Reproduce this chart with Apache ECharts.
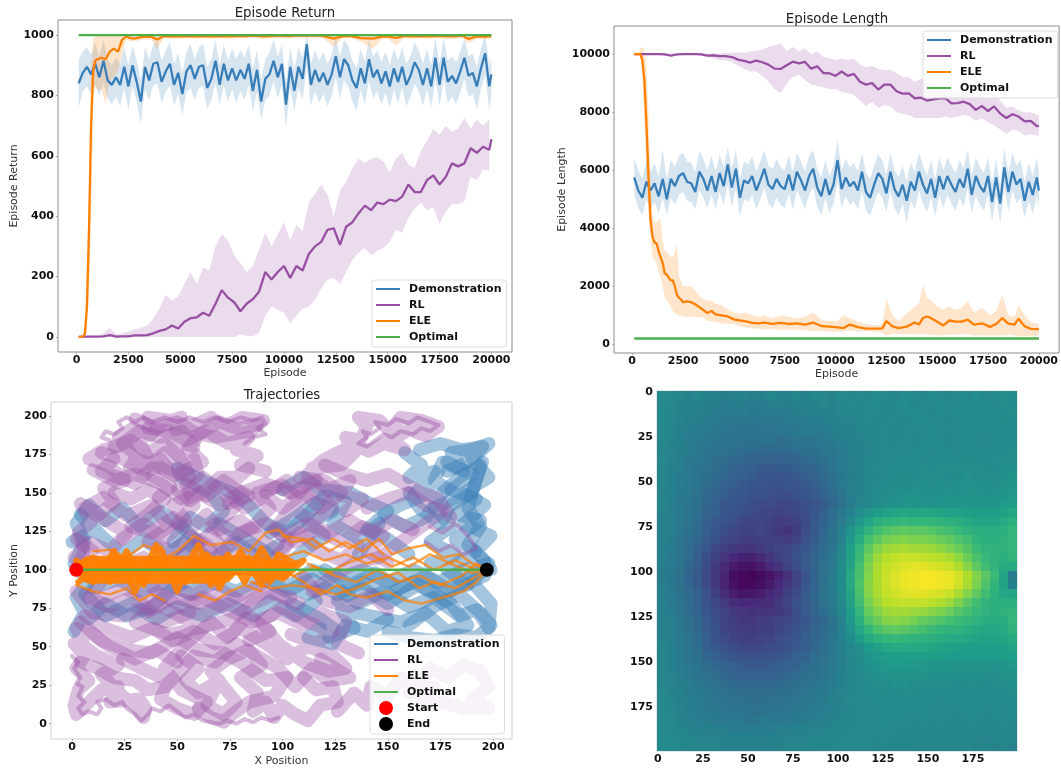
<!DOCTYPE html>
<html><head><meta charset="utf-8">
<style>html,body{margin:0;padding:0;background:#fff}#c{width:1061px;height:768px}canvas{filter:blur(0.4px)}</style>
<script src="https://cdn.jsdelivr.net/npm/echarts@6/dist/echarts.min.js"></script>
</head><body><div id="c"></div>
<script>
const episodes=[100,300,500,700,900,1100,1300,1500,1700,1900,2100,2300,2500,2700,2900,3100,3300,3500,3700,3900,4100,4300,4500,4700,4900,5100,5300,5500,5700,5900,6100,6300,6500,6700,6900,7100,7300,7500,7700,7900,8100,8300,8500,8700,8900,9100,9300,9500,9700,9900,10100,10300,10500,10700,10900,11100,11300,11500,11700,11900,12100,12300,12500,12700,12900,13100,13300,13500,13700,13900,14100,14300,14500,14700,14900,15100,15300,15500,15700,15900,16100,16300,16500,16700,16900,17100,17300,17500,17700,17900,18100,18300,18500,18700,18900,19100,19300,19500,19700,19900,20000];
const demoRetMean=[840,875,895,870,905,860,915,850,835,860,
835,895,830,900,845,780,895,850,905,910,
845,880,905,835,875,805,880,900,855,895,
900,825,855,915,835,905,850,890,850,885,
855,905,815,885,780,855,870,915,860,905,
770,895,815,895,855,970,835,885,845,875,
835,870,930,860,920,900,850,825,890,840,
920,860,885,840,880,830,890,845,895,835,
865,910,885,835,890,830,925,835,925,845,
865,840,880,925,865,875,830,890,940,830,870];
const demoRetLow=[760,815,830,805,835,800,840,790,770,795,
765,825,750,830,780,705,820,785,835,840,
775,810,835,765,805,735,810,825,785,825,
830,755,785,840,770,835,780,820,775,815,
785,835,745,815,720,785,800,845,790,835,
695,825,750,825,785,895,765,815,775,805,
765,800,860,790,850,830,780,750,820,770,
850,790,815,770,810,760,820,775,825,765,
795,840,815,765,820,760,855,765,855,775,
795,770,810,855,795,805,755,820,870,750,800];
const demoRetHigh=[920,945,960,935,975,930,985,920,900,925,
905,960,900,965,915,850,960,920,970,980,
915,950,975,905,940,875,945,970,920,960,
970,895,920,985,900,970,915,955,920,950,
925,970,885,950,850,920,940,985,930,970,
840,960,885,960,925,1000,905,950,915,945,
905,935,995,930,985,965,915,890,955,910,
985,930,950,910,945,900,955,915,960,905,
930,975,950,905,955,900,990,905,990,915,
930,910,945,990,930,940,895,955,1000,900,920];
const demoLenMean=[5750,5300,5050,5600,5300,5550,5100,5700,5000,5700,
5450,5800,5900,5600,5550,5250,5950,5700,5300,5800,
5250,5900,5450,6200,5400,6050,5050,5650,5550,5800,
5300,5650,6050,5500,5350,5700,5450,5350,5850,5300,
5950,5650,5300,5800,6050,5400,5100,5700,5150,5500,
6350,5350,5750,5450,5600,5300,5950,5250,5050,5500,
5900,5700,5200,5950,5350,5100,5500,4950,5600,5300,
5950,5500,5200,5700,5050,5800,5350,5800,5500,5250,
5700,5400,6050,5150,5800,5450,5250,5800,4900,5750,
4850,6100,5250,5950,5500,5700,4950,5600,5150,5750,5300];
const demoLenLow=[5150,4700,4450,5000,4650,4900,4500,5050,4450,5050,
4800,5150,5250,4950,4900,4650,5300,5050,4700,5150,
4650,5250,4800,5500,4750,5350,4400,5000,4900,5150,
4650,5000,5400,4850,4700,5050,4800,4700,5200,4650,
5300,5000,4650,5150,5400,4750,4450,5050,4500,4850,
5600,4700,5100,4800,4950,4650,5300,4600,4450,4850,
5250,5050,4550,5300,4700,4450,4850,4200,4950,4650,
5300,4850,4550,5050,4400,5150,4700,5150,4850,4600,
5050,4750,5400,4500,5150,4800,4600,5150,4250,5100,
4150,5400,4600,5300,4850,5050,4350,4950,4500,5100,4700];
const demoLenHigh=[6400,6000,5700,6350,5950,6250,5800,6700,5700,6350,
6100,6500,6600,6300,6250,5950,6650,6400,6000,6500,
5950,6550,6100,6800,6050,6700,5700,6300,6200,6500,
5950,6300,6700,6150,6050,6400,6100,6000,6500,5950,
6600,6300,5950,6500,6700,6050,5750,6350,5800,6150,
7050,6000,6400,6100,6250,5950,6600,5900,5700,6150,
6550,6350,5850,6600,6000,5750,6150,5600,6250,5950,
6600,6150,5850,6350,5700,6450,6000,6450,6150,5900,
6350,6050,6700,5800,6450,6100,5900,6450,5550,6400,
5500,6750,5900,6600,6150,6350,5600,6250,5800,6400,6000];
const rlEpisodes=[100,400,700,1000,1300,1600,1900,2200,2500,2800,3100,3400,3700,4000,4300,4600,4900,5200,5500,5800,6100,6400,6700,7000,7300,7600,7900,8200,8500,8800,9100,9400,9700,10000,10300,10600,10900,11200,11500,11800,12100,12400,12700,13000,13300,13600,13900,14200,14500,14800,15100,15400,15700,16000,16300,16600,16900,17200,17500,17800,18100,18400,18700,19000,19300,19600,19900,20000];
const rlRetMean=[0,1,1,1,2,6,1,2,2,5,
5,6,12,20,25,38,28,50,62,65,
80,70,110,155,130,115,85,110,125,150,
215,190,215,235,195,235,220,275,300,315,355,
360,305,365,380,410,435,420,445,440,455,
450,465,505,480,480,520,535,505,530,575,
565,575,625,610,630,620,655];
const rlRetLow=[0,0,0,0,0,0,0,0,0,0,
0,0,0,0,0,0,0,0,0,0,
0,0,0,0,0,0,8,3,2,12,
70,100,90,80,45,70,95,100,125,160,190,
195,175,215,255,280,295,270,285,295,315,
355,345,395,425,445,420,430,375,415,440,
440,450,530,520,555,550,590];
const rlRetHigh=[0,2,4,5,12,30,8,12,18,25,
30,38,60,95,140,120,135,175,215,175,
230,220,300,340,320,270,245,215,235,290,
345,300,340,380,320,370,350,445,475,505,470,
400,485,515,560,590,575,590,595,580,
545,590,610,570,560,615,650,690,670,700,
680,690,725,690,720,700,720];
const rlLenMean=[10000,10000,10000,10000,10000,9990,9950,9990,10000,10000,
10000,9990,9950,9960,9930,9930,9900,9810,9770,9710,
9780,9720,9640,9500,9490,9620,9740,9680,9730,9500,
9580,9350,9340,9250,9400,9250,9320,9050,8950,9000,8780,
8950,8950,8720,8640,8650,8480,8500,8400,8440,8480,
8480,8300,8310,8360,8280,8080,8210,8040,8200,7950,
7800,7930,7850,7680,7700,7520,7530];
const rlLenLow=[10000,9990,9980,9980,9970,9960,9930,9970,9980,9990,
9980,9960,9900,9860,9800,9780,9720,9600,9500,9400,
9400,9250,9050,8800,8650,9000,9200,9300,9100,8950,
8900,8850,8800,8800,8700,8650,8600,8400,8200,8350,8150,
8250,8200,8000,7950,7900,7800,7800,7800,7800,7800,
7850,7800,7850,7900,7850,7700,7800,7650,7550,7400,
7250,7400,7350,7200,7250,7200,7200];
const rlLenHigh=[10000,10010,10020,10020,10020,10020,10010,10010,10020,10010,
10020,10020,10000,10040,10020,10040,10040,10070,10050,10100,
10120,10150,10250,10300,10380,10100,10250,10100,10200,10000,
10100,9900,9870,9800,9850,9800,9850,9650,9550,9600,9500,
9450,9450,9350,9200,9200,9050,9150,9050,9000,8900,
8880,8750,8750,8800,8650,8500,8600,8450,8700,8400,
8150,8200,8050,8000,8000,7900,7900];
const eleRetEpisodes=[100,300,400,500,600,700,800,900,1000,1200,1400,1600,1800,2000,2200,2400,2600,2800,
3200,3600,3900,4200,4600,5000,5400,5800,6200,6600,7000,7400,7800,8200,8600,9000,9400,9800,10200,10600,11000,11400,11800,12400,12800,13200,13700,14300,14700,15000,15400,15800,16200,16600,17000,17400,17800,18200,18600,18900,19300,19700,20000];
const eleRetMean=[0,0,10,100,350,700,880,915,920,925,920,945,955,945,985,995,990,988,
995,994,985,997,996,996,997,996,997,996,997,996,997,997,998,996,997,998,997,998,998,998,998,988,996,997,990,988,995,996,991,997,996,997,996,997,997,996,998,987,996,995,997];
const eleRetLow=[0,0,0,20,150,400,780,830,820,820,770,850,860,880,940,985,980,980,
985,985,955,990,988,988,990,988,990,988,990,988,990,990,992,988,990,992,990,992,992,992,992,962,988,990,978,955,985,988,965,990,988,990,988,990,985,988,992,972,988,985,990];
const eleRetHigh=[0,0,20,250,500,900,985,995,1000,1000,1000,1000,1000,1000,1000,1000,1000,995,
1000,1000,1000,1000,1000,1000,1000,1000,1000,1000,1000,1000,1000,1000,1000,1000,1000,1000,1000,1000,1000,1000,1000,1000,1000,1000,1000,1000,1000,1000,1000,1000,1000,1000,1000,1000,1000,1000,1000,1000,1000,1000,1000];
const eleLenEpisodes=[100,300,400,500,600,700,800,900,1000,1100,1200,1300,1400,1500,1600,1700,1800,1900,2000,2100,2200,2300,2400,2500,2700,2900,3100,3300,3500,3700,3900,4100,4400,4700,5000,5300,5600,5900,6200,6500,6900,7300,7700,8100,8500,8900,9300,9700,10100,10400,10700,11100,11500,12000,12300,12500,12800,13100,13500,13900,14100,14300,14500,14700,15000,15300,15600,15900,16200,16500,16800,17200,17600,17900,18200,18500,18800,19000,19300,19600,20000];
const eleLenMean=[10000,10000,10000,9800,9100,7600,5800,4300,3700,3500,
3480,3200,3000,2800,2450,2400,2300,2200,2200,2000,
1700,1600,1550,1450,1480,1450,1380,1280,1180,1080,
1150,1030,1000,960,860,820,790,740,720,750,
700,740,700,720,680,750,630,610,580,560,
680,590,540,540,550,800,620,560,610,750,
680,900,960,900,780,650,820,780,780,850,
680,720,600,700,900,710,680,880,620,530,520];
const eleLenLow=[10000,10000,9950,9200,7800,6000,4500,3700,3000,2900,
2800,2500,2300,2000,1600,1500,1450,1300,1150,1050,
1050,1000,980,950,950,950,950,940,920,800,
800,760,720,700,700,620,570,550,540,520,
520,500,510,500,480,450,460,440,420,440,
470,450,440,430,400,300,360,360,350,350,
340,370,340,330,300,320,340,330,350,360,
300,310,300,300,300,330,300,280,280,280,300];
const eleLenHigh=[10000,10000,10250,10200,10200,9500,8000,5500,4400,4200,
4200,4300,4300,3600,3200,3200,3100,3000,3000,3200,
3500,2300,2200,2000,2000,2000,1850,1650,1550,1500,
1500,1400,1350,1200,1100,1050,1100,1000,950,1000,
900,1000,950,900,950,1100,850,800,800,1000,
900,780,700,650,700,1550,1000,800,1050,1300,
1400,2050,1600,1500,1300,1200,1300,1200,1250,1500,
1100,1250,1000,1150,1700,1000,950,1350,1000,750,700];
const optimalEpisodes=[100,20000];
const optimalReturn=[1000,1000];
const optimalLength=[200,200];
const demoPaths=[
[1,60,6,72,2,82,8,92,1,104,6,118,2,130,8,142,16,132,24,140,32,128,42,138,52,128,60,118,52,108,60,96,48,88,38,76,26,70,16,78,8,68],
[48,118,56,134,64,128,72,138,66,150,52,160,50,166,62,158,76,150,84,142,92,130,102,124,112,136,120,148,130,144,124,130,136,120,146,130,136,110],
[100,92,112,84,124,90,136,78,148,86,160,76,172,82,184,70,192,74,198,62,199,78,190,92,198,104,186,100,174,92,162,100,150,92,138,100,126,94,114,100,102,88,92,96],
[104,78,118,68,126,60,122,56,134,62,128,74,142,70,156,66,168,72,178,60,188,64,180,78,164,90,150,78,138,88,126,80],
[199,100,192,112,199,122,186,130,196,142,186,150,198,160,190,172,198,182,190,178,180,176,186,164,176,170,172,158,184,148,172,140,180,128,170,118,182,110,170,104],
[158,176,166,168,160,160,172,164,162,148,170,150,156,142,148,136,158,128,168,134,176,150,184,160,194,168,188,140,194,128,188,116,196,106],
[10,88,22,94,32,86,44,92,56,84,66,92,78,86,90,94,102,86,114,94,126,84,138,92,150,84,162,92,174,84,186,90,196,96],
[70,130,82,120,92,112,100,100,110,112,120,122,112,130,124,138,116,144,104,132,94,124],
[0,118,10,126,4,136,14,122,24,110,34,120,44,110,54,118,66,106,78,118,88,108,98,116],
[6,84,16,70,28,78,40,68,50,76,62,70,74,78,86,70,94,80,106,70,116,80],
[150,60,160,56,172,54,182,58,192,56,199,64,194,72,184,84,172,76,160,64],
[178,170,190,162,180,152,192,146,182,136,194,132,182,120,192,112,178,100,188,90],
[160,110,150,120,140,126,150,138,140,144,132,150,118,152,110,160,100,152],
[118,62,112,56,124,52,130,64,140,60,150,68],
[120,100,132,90,144,98,156,88,168,96,180,86,192,98],
[165,178,175,182,185,178,195,180,188,170,178,164],
[160,150,165,140,175,130,180,142,190,150,195,170]];
const rlPaths=[
[2,100,6,112,3,124,9,131,4,143,13,136,20,144,15,153,25,158,18,167,8,172,15,178,25,181,31,174,27,165,37,170,33,181,22,186,29,192,37,187,42,194,36,199,47,197,52,199,49,191,58,194,66,199,72,193,81,199,91,197,85,190,76,188,68,186,61,188,55,179,62,170,56,166,48,161,42,172,38,161,47,154,41,147],
[14,176,24,172,34,165,44,176,52,170,47,184,58,180,52,190,42,186,32,190,24,182,30,172,40,168,50,160,58,172,60,162,50,152,56,145,64,152,70,160,78,160,84,166,75,155,84,148,74,143],
[92,150,102,158,108,150,114,162,122,170,114,166,128,168,134,176,130,186,137,184,140,193,136,199,146,197,151,190,156,199,166,197,174,193,168,187,160,191,152,184,158,178,148,182,141,177,134,181,126,176,119,171,112,162,122,152,132,158,128,148,138,146,130,138],
[50,130,58,142,54,156,64,148,72,158,82,148,74,136,66,128,76,120,86,128,94,140,88,150,100,155,108,145,116,152,124,140,114,132,104,140,96,126,106,118,116,126,128,118,138,128,148,122,140,112,150,105],
[1,108,8,118,18,112,26,124,16,132,6,140,15,147,26,135,38,142,46,128,36,118,48,112,56,122,66,112,58,102,68,92,58,84,46,90,36,82,24,88,12,80,2,86,10,72,24,70,34,76,44,66,56,72],
[1,52,6,44,2,36,8,28,3,22,1,12,2,6,8,14,14,22,22,24,18,14,32,16,35,10,34,4,30,12,24,18,14,32,22,38,12,44,6,50,2,62,10,58,18,50,30,42,40,48,50,40],
[52,44,60,36,54,28,60,20,70,28,64,12,72,6,78,14,72,24,66,34,74,42,84,48,90,38,80,30,88,20,86,8,92,14,96,4,100,12,106,6,112,2,118,12,126,14,124,24,116,22,110,30],
[6,70,16,62,28,56,38,62,48,54,58,60,68,52,80,62,92,52,102,42,112,50,124,44,130,36,122,34,110,40,98,52,90,66,100,76,112,66,124,60,116,52,104,58],
[24,42,36,34,46,28,42,16,50,10,58,6,64,14,52,22,44,36,54,52,66,66,74,56,84,70,94,60,84,54],
[126,8,134,20,140,12,142,24,150,18,156,30,164,24,170,36,178,30,186,38,194,34,198,24,190,16,198,10,186,10,176,14,166,12,172,24,160,20],
[110,95,120,80,132,76,142,84,150,74],
[20,100,34,108,44,98,54,110,66,124,74,108,84,116,94,104,102,116,90,90,78,82,66,74,54,68,40,78,30,66,46,58,60,62,76,68,86,78,96,84,108,78],
[20,150,28,146,36,152,44,146,36,136,28,128,38,124,48,134,56,126,64,136,70,126,80,132,90,120,98,112,108,124,118,112,128,106,136,116],
[30,198,40,192,50,196,60,188,70,196,78,192,88,194],
[10,165,20,158,30,162,42,156,52,146,62,160,72,150,82,140,92,148,100,140,110,150,118,140,128,150,120,158,108,160],
[4,40,12,36,20,30,30,28,36,22,44,24,50,32,58,44,68,40,78,52,88,44,98,36,106,24,114,36,122,28,132,30,118,42],
[4,66,14,54,26,48,38,46,50,56,60,48,72,46,80,40,92,28,102,30,96,18,84,14,76,6,72,1,66,4,60,10],
[30,100,40,86,52,76,62,82,74,74,86,66,98,72,110,64,118,72,130,66,126,52,136,46],
[140,140,150,146,160,150,168,142,176,138,166,128,156,118,146,108,134,104,124,96,114,86],
[2,120,10,112,6,100,14,92,8,82,18,76,28,82,38,74,48,82,60,78,72,86,82,78,92,86,104,82],
[24,120,34,130,44,120,54,132,48,142,60,150,70,142,80,150,92,156,104,150,116,158],
[60,120,70,110,80,124,92,130,100,122,112,130,122,124,132,132,142,124,152,132,162,126],
[20,172,14,164,22,160,30,156,38,166,46,166,56,160,52,172,44,182,36,176,28,184,20,180],
[36,192,46,190,54,184,64,190,74,182,84,186,78,178,88,174,80,168,92,164],
[120,168,130,162,140,158,150,162,158,156,166,150,174,146,180,134]];
const rlFuzzPaths=[
[136,182,140,186,138,190,142,188,146,192,144,196,150,194,154,198,160,195,164,199,170,196,174,194,170,190,166,192,162,188,156,190,152,186,148,188,144,184,140,180,136,182],
[0,44,3,40,1,36,4,30,2,26,5,24,3,18,6,14,3,10,5,6,8,8,12,6,14,10,12,14,16,16,20,12,24,14,26,10,30,6,33,2,36,6,38,10,42,8,46,12,50,8,54,4,58,6,62,2,66,1,70,0,74,2,78,0,82,3,86,1,90,4,94,2,98,4],
[18,184,14,186,16,190,20,188,24,192,22,196,26,199,30,196,34,199,38,196,44,199,50,196,56,199,62,196,68,199,74,196,80,199,86,197,90,199,92,195,88,192,92,188,86,186,82,182],
[170,128,176,124,182,130,188,122,192,114,186,110,180,116,174,112,168,118]];
const eleCorePaths=[
[9,100,25,100,50,100,70,100],
[60,102,80,103,100,100]];
const eleCoreWidths=[28,20];
const eleZigPaths=[
[2,100,10,108,18,92,26,112,34,90,42,114,50,88,58,112,66,90,74,110,82,92,90,114,98,96,106,104,98,110,90,90,80,112,70,88,60,116,50,86,40,116,30,86,20,112,10,92,3,104],
[3,92,14,104,24,96,36,106,46,96,58,104,68,96,80,104,92,100,100,94,110,106,100,100,88,108,76,98,64,106,52,98,40,102,28,100,16,98],
[2,106,12,96,22,108,32,94,44,108,54,92,64,110,74,94,84,108,94,92,102,104]];
const eleThinPaths=[
[40,105,50,112,58,122,66,116,76,118,84,112,92,124,98,126,104,118,114,120,122,112,130,118,138,112,146,120,152,110,160,114,168,116,176,108,184,110,190,104,197,100],
[90,95,100,100,110,92,118,84,126,90,132,84,140,82,150,86,158,80,166,78,176,82,186,86,192,92,197,100],
[100,108,110,112,120,106,130,110,140,104,150,108,160,102,170,110,180,104,190,98,197,100],
[105,96,115,102,125,96,135,92,145,100,155,92,165,96,175,90,185,96,192,104,197,100],
[85,92,95,88,105,90,115,88,125,84,135,88,145,94,155,98,165,88,172,92,182,88,190,94,197,100],
[60,84,68,80,75,86,82,90,90,86],
[10,112,18,113,26,108,34,116,44,112],
[2,90,10,86,18,84,26,88,32,80,38,84,44,80],
[100,122,110,120,116,114,124,120,132,114,140,120,148,110],
[112,104,122,98,130,104,142,110,152,102,162,108,172,100,182,106,192,100]];
const optimalPathX=[2,197];
const optimalPathY=[100,100];
const startPoint=[2,100];
const endPoint=[197,100];
const heatRows=[
[48,47,46,45,46,44,45,43,44,45,43,44,46,45,44,46,45,47,46,45,48,46,47,46,48,47,46,48,47,46,48,47,46,48,47,49,47,48,49,48],
[47,47,45,44,45,43,43,42,43,43,42,42,43,44,43,44,45,45,46,45,46,47,46,47,48,46,47,48,46,47,47,48,47,47,48,47,48,47,49,48],
[48,46,45,44,43,43,42,41,41,42,40,41,41,42,42,43,43,44,44,45,46,46,46,47,47,46,47,47,48,47,46,48,47,48,47,48,47,48,48,49],
[47,46,45,43,43,41,41,40,40,39,39,40,40,40,41,41,42,42,43,44,45,45,46,47,46,47,47,46,47,48,47,47,46,48,48,47,48,47,49,48],
[47,46,44,43,42,41,40,39,38,38,38,38,38,39,39,40,41,41,42,43,44,45,46,46,47,47,46,47,47,46,48,47,47,47,48,48,47,48,48,48],
[47,45,44,42,41,40,39,38,38,37,37,36,37,36,37,38,38,39,40,41,43,44,45,46,46,47,46,47,46,47,48,47,46,47,48,47,46,48,47,48],
[46,45,43,42,40,39,38,37,36,35,35,34,34,34,35,36,36,37,39,40,42,44,45,45,46,47,47,47,47,48,47,48,47,47,48,48,47,48,48,49],
[47,45,43,41,40,38,36,35,34,33,32,32,32,31,32,33,34,35,37,39,41,43,45,46,46,47,47,48,48,47,48,48,48,48,49,48,48,48,49,49],
[46,44,43,41,39,37,35,34,32,31,30,29,28,29,29,30,32,33,35,38,41,43,45,46,47,47,48,48,48,49,48,49,49,49,49,49,49,48,50,50],
[46,44,42,41,39,36,34,33,31,30,29,27,27,26,27,28,30,32,34,37,40,43,44,46,46,48,48,49,48,49,49,49,48,49,50,49,49,49,50,51],
[46,44,42,40,38,35,33,31,30,28,27,26,26,25,27,26,28,30,33,37,41,43,45,46,47,48,49,48,49,50,49,50,49,50,51,50,50,49,51,52],
[45,44,41,40,37,34,32,30,28,27,25,25,24,24,24,25,27,29,31,34,39,43,45,46,48,49,50,50,51,50,50,50,51,50,51,51,50,51,52,53],
[46,43,41,39,37,33,31,28,27,25,24,23,23,22,22,23,25,27,29,33,37,42,46,47,49,50,51,52,52,52,51,52,52,52,52,52,52,52,54,55],
[45,43,41,38,36,32,30,27,25,24,23,22,21,20,21,22,24,27,31,35,40,44,49,52,55,57,58,59,58,59,58,58,57,57,56,55,55,55,57,59],
[45,43,40,38,35,31,28,26,24,22,21,21,20,18,18,20,23,28,32,36,42,47,53,58,62,65,66,67,66,66,66,65,63,62,60,58,58,58,60,63],
[45,43,40,37,34,30,27,24,22,20,20,21,19,17,14,18,23,28,33,38,44,51,58,64,69,72,74,75,74,74,73,71,69,67,64,62,62,62,63,66],
[45,42,39,36,33,29,25,22,20,18,18,19,19,19,18,21,25,29,34,38,45,54,62,70,75,79,80,81,80,80,79,77,75,72,69,65,63,63,64,66],
[44,42,39,35,31,27,22,19,17,15,15,17,19,21,22,24,27,31,35,39,46,56,66,75,81,85,86,87,86,86,85,83,80,77,73,68,65,64,64,66],
[44,41,38,35,30,24,19,15,11,9,9,12,15,19,22,25,29,32,36,41,47,57,68,78,85,89,91,92,92,91,90,89,87,83,77,71,67,64,63,65],
[43,41,38,33,29,23,17,12,7,5,5,7,11,15,20,24,28,32,37,41,48,58,70,80,87,91,93,95,96,96,95,94,92,88,82,75,69,65,61,60],
[42,40,37,32,28,22,16,10,4,2,1,3,5,9,14,20,26,32,37,42,49,60,71,81,88,92,95,97,98,99,99,98,97,94,88,81,74,68,58,42],
[43,40,37,33,28,23,16,10,5,2,2,4,7,11,16,21,27,32,37,42,49,60,72,82,88,92,95,97,98,99,99,98,97,93,87,80,72,65,57,44],
[43,41,38,34,30,25,19,13,8,6,6,8,11,14,19,23,28,33,38,42,48,58,71,81,87,91,93,95,96,96,95,94,92,87,81,75,69,63,59,58],
[44,41,38,35,31,26,22,17,13,11,11,12,13,17,21,25,29,32,37,41,47,57,69,79,85,89,90,91,91,91,90,88,85,80,74,69,65,63,62,62],
[44,42,39,35,32,27,23,20,17,15,14,15,15,17,19,24,28,32,36,40,46,55,66,76,81,85,86,86,85,84,82,80,77,73,70,67,64,62,64,65],
[45,43,40,37,33,28,24,20,18,16,16,18,18,20,22,24,27,30,33,38,45,54,63,72,77,81,82,81,79,76,74,72,70,68,66,64,62,61,62,66],
[45,43,40,37,33,29,25,21,19,18,17,18,19,21,23,26,29,32,35,38,44,51,59,66,71,74,75,74,72,70,68,66,65,64,62,60,59,59,60,64],
[45,43,41,38,35,30,26,23,20,19,19,20,21,23,25,27,30,33,35,39,44,49,55,60,64,66,67,66,65,64,63,61,60,60,59,58,57,57,58,61],
[46,44,41,39,36,31,28,25,24,22,22,22,23,24,26,28,30,33,36,40,43,47,50,54,57,59,60,60,60,59,58,57,57,56,55,55,55,55,56,58],
[46,44,42,39,37,33,30,28,26,25,25,25,26,27,28,30,32,35,37,40,43,46,49,52,54,55,56,56,56,55,55,55,54,54,54,54,54,54,55,56],
[46,44,42,40,38,35,33,32,30,29,28,28,29,30,31,32,34,36,38,40,43,46,48,50,52,53,54,54,53,53,52,52,52,51,51,51,51,51,52,53],
[46,45,43,41,39,37,35,33,32,31,31,31,31,32,33,34,36,37,39,41,44,46,47,49,50,51,51,51,51,51,50,50,50,50,50,50,50,49,51,51],
[46,45,43,42,40,38,37,35,34,33,33,33,33,34,35,36,37,39,40,42,44,46,47,48,49,49,50,50,49,49,49,49,49,48,49,49,48,49,49,50],
[47,45,44,42,41,40,38,37,36,35,35,35,35,36,36,37,39,40,41,43,45,46,47,48,48,49,48,49,49,48,48,48,48,48,48,48,48,48,48,49],
[47,46,44,43,42,40,39,38,37,37,36,36,37,37,38,39,40,41,42,44,45,47,47,47,48,48,47,48,48,48,48,47,48,47,48,48,47,48,48,48],
[47,46,45,43,42,41,40,39,38,38,37,37,38,38,39,40,41,42,43,44,45,46,47,47,47,48,48,48,47,48,47,47,47,47,48,48,47,48,47,48],
[47,47,45,44,43,42,41,41,40,40,39,40,40,40,41,41,42,43,44,45,46,46,47,47,47,48,47,47,47,47,47,47,47,46,47,47,46,47,47,47],
[48,47,46,45,44,44,43,43,42,42,42,42,42,43,43,44,44,45,45,46,46,47,47,47,47,47,47,47,46,47,46,47,46,46,47,46,46,46,47,46],
[48,47,47,46,45,45,45,44,44,44,44,43,44,44,45,45,45,46,46,46,47,47,47,47,46,47,46,46,47,46,46,46,46,46,46,46,45,46,46,46],
[48,48,47,46,46,46,46,45,45,44,45,44,45,45,46,46,46,47,46,47,47,47,47,47,46,47,46,47,46,46,46,46,46,46,46,45,46,45,46,45]];
const retYTicks=[0,200,400,600,800,1000];
const lenYTicks=[0,2000,4000,6000,8000,10000];
const episodeTicks=[0,2500,5000,7500,10000,12500,15000,17500,20000];
const posXTicks=[0,25,50,75,100,125,150,175,200];
const posYTicks=[0,25,50,75,100,125,150,175,200];
const imgTicks=[0,25,50,75,100,125,150,175];
const heatCell=5;

const FONT='DejaVu Sans';
const C={demo:'#377eb8',rl:'#984ea3',ele:'#ff7f00',opt:'#4daf4a'};
const zip=(xs,ys)=>xs.map((x,i)=>[x,ys[i]]);
const flat=p=>{const r=[];for(let i=0;i<p.length;i+=2)r.push([p[i],p[i+1]]);return r};
const series=[];
function band(g,xs,low,high,color){
  series.push({type:'custom',xAxisIndex:g,yAxisIndex:g,silent:true,z:2,encode:{x:0,y:[1,2]},
    data:xs.map((x,i)=>[x,low[i],high[i]]),
    renderItem(params,api){
      if(params.dataIndex!==0)return null;
      const pts=[];
      xs.forEach((x,i)=>pts.push(api.coord([x,high[i]])));
      for(let i=xs.length-1;i>=0;i--)pts.push(api.coord([xs[i],low[i]]));
      return {type:'polygon',shape:{points:pts},style:{fill:color,opacity:0.2,stroke:null}};
    }});
}
function line(g,name,xs,ys,color,z){
  series.push({type:'line',name:name,xAxisIndex:g,yAxisIndex:g,symbol:'none',z:z||3,lineStyle:{color:color,width:2.3},itemStyle:{color:color},data:zip(xs,ys)});
}
band(0,episodes,demoRetLow,demoRetHigh,C.demo);
band(0,rlEpisodes,rlRetLow,rlRetHigh,C.rl);
band(0,eleRetEpisodes,eleRetLow,eleRetHigh,C.ele);
band(1,episodes,demoLenLow,demoLenHigh,C.demo);
band(1,rlEpisodes,rlLenLow,rlLenHigh,C.rl);
band(1,eleLenEpisodes,eleLenLow,eleLenHigh,C.ele);
line(0,'Demonstration',episodes,demoRetMean,C.demo,3);
line(0,'RL',rlEpisodes,rlRetMean,C.rl,3);
line(0,'ELE',eleRetEpisodes,eleRetMean,C.ele,3);
line(0,'Optimal',optimalEpisodes,optimalReturn,C.opt,3);
line(1,'Demonstration',episodes,demoLenMean,C.demo,3);
line(1,'RL',rlEpisodes,rlLenMean,C.rl,3);
line(1,'ELE',eleLenEpisodes,eleLenMean,C.ele,3);
line(1,'Optimal',optimalEpisodes,optimalLength,C.opt,3);
function path(name,p,color,w,op,z){
  series.push({type:'line',name:name,xAxisIndex:2,yAxisIndex:2,symbol:'none',z:z,silent:true,
    lineStyle:{color:color,width:w,opacity:op,join:'round',cap:'round'},data:flat(p)});
}
demoPaths.forEach(p=>path('Demonstration',p,C.demo,13,0.45,2));
rlPaths.forEach(p=>path('RL',p,C.rl,13,0.36,3));
rlFuzzPaths.forEach(p=>path('RL',p,C.rl,4,0.4,3));
eleCorePaths.forEach((p,i)=>path('ELE',p,C.ele,eleCoreWidths[i],0.95,4));
eleZigPaths.forEach(p=>path('ELE',p,C.ele,6,0.9,4));
eleThinPaths.forEach(p=>path('ELE',p,C.ele,2.5,0.7,4));
series.push({type:'line',name:'Optimal',xAxisIndex:2,yAxisIndex:2,symbol:'none',z:5,lineStyle:{color:C.opt,width:2.3},data:zip(optimalPathX,optimalPathY)});
series.push({type:'scatter',name:'Start',xAxisIndex:2,yAxisIndex:2,symbol:'circle',symbolSize:14,z:6,itemStyle:{color:'#ff0000',opacity:1},data:[startPoint]});
series.push({type:'scatter',name:'End',xAxisIndex:2,yAxisIndex:2,symbol:'circle',symbolSize:14,z:6,itemStyle:{color:'#000000',opacity:1},data:[endPoint]});
const heatData=[];
heatRows.forEach((row,r)=>row.forEach((v,c)=>heatData.push([c*heatCell-0.5,r*heatCell-0.5,v])));
series.push({type:'custom',name:'Heat',xAxisIndex:3,yAxisIndex:3,silent:true,z:2,
  encode:{x:0,y:1},data:heatData,
  renderItem(params,api){
    const a=api.coord([api.value(0),api.value(1)]);
    const b=api.coord([api.value(0)+heatCell,api.value(1)+heatCell]);
    return {type:'rect',shape:{x:a[0],y:a[1],width:b[0]-a[0],height:b[1]-a[1]},style:{fill:api.visual('color'),stroke:null}};
  }});

const grids=[
 {left:58,top:20,width:454,height:332,show:true,borderColor:'#8c8c8c',borderWidth:1,backgroundColor:'#fff'},
 {left:614,top:26,width:446.5,height:327,show:true,borderColor:'#8c8c8c',borderWidth:1,backgroundColor:'#fff'},
 {left:51,top:402,width:461,height:338,show:true,borderColor:'#cfcfcf',borderWidth:1,backgroundColor:'#fff'},
 {left:657,top:391,width:360,height:360,show:true,borderColor:'#cfcfcf',borderWidth:1}];
function vAxis(g,ticks,min,max,name,gap,isX,extra){
  const tickOn=g!==3;
  const o={type:'value',gridIndex:g,min:min,max:max,scale:true,splitLine:{show:false},axisLine:{show:false,onZero:false},
    axisTick:{show:tickOn,length:2,lineStyle:{color:'#aaaaaa',width:1},customValues:ticks},
    axisLabel:{customValues:ticks,formatter:v=>String(v),fontFamily:FONT,fontWeight:'bold',fontSize:11,color:'#111',margin:isX?3:4,showMinLabel:true,showMaxLabel:true,hideOverlap:false},
    name:name,nameLocation:'middle',nameGap:gap,nameTextStyle:{fontFamily:FONT,fontSize:11,color:'#333'}};
  return Object.assign(o,extra||{});
}
const xAxes=[
 vAxis(0,episodeTicks,-895,20995,'Episode',16,true),
 vAxis(1,episodeTicks,-895,20995,'Episode',16,true),
 vAxis(2,posXTicks,-9.95,208.95,'X Position',17,true),
 vAxis(3,imgTicks,-0.5,199.5,'',0,true)];
const yAxes=[
 vAxis(0,retYTicks,-50,1050,'Episode Return',25,false),
 vAxis(1,lenYTicks,-300,10970,'Episode Length',31,false),
 vAxis(2,posYTicks,-9.95,208.95,'Y Position',23,false),
 vAxis(3,imgTicks,-0.5,199.5,'',0,false,{inverse:true})];
const lineEntry=n=>({name:n,itemStyle:{opacity:0}});
function legend(left,top,names){
  return {left:left,top:top,orient:'vertical',data:names,itemWidth:24,itemHeight:14,itemGap:2,padding:[2,5,3,3],
    backgroundColor:'rgba(255,255,255,0.8)',borderColor:'#dddddd',borderWidth:1,borderRadius:3,
    textStyle:{fontFamily:FONT,fontWeight:'bold',fontSize:11,lineHeight:14,color:'#111',padding:[0,0,0,4]}};
}
const names4=['Demonstration','RL','ELE','Optimal'].map(lineEntry);
function title(text,x,y){return {text:text,left:x,top:y,textAlign:'center',padding:0,textStyle:{fontFamily:FONT,fontWeight:'normal',fontSize:13.3,color:'#222'}}}
const chart=echarts.init(document.getElementById('c'),null,{renderer:'canvas'});
chart.setOption({
  animation:false,backgroundColor:'#fff',
  title:[title('Episode Return',285,7),title('Episode Length',837,13),title('Trajectories',282,389)],
  grid:grids,xAxis:xAxes,yAxis:yAxes,
  legend:[legend(372,280,names4),legend(923,31,names4),legend(370,635,names4.concat(['Start','End']))],
  visualMap:{show:false,seriesIndex:series.findIndex(s=>s.name==='Heat'),dimension:2,min:0,max:100,
    inRange:{color:['#440154','#482878','#3e4989','#31688e','#26828e','#1f9e89','#35b779','#6ece58','#b5de2b','#fde725']}},
  series:series
});
</script></body></html>
